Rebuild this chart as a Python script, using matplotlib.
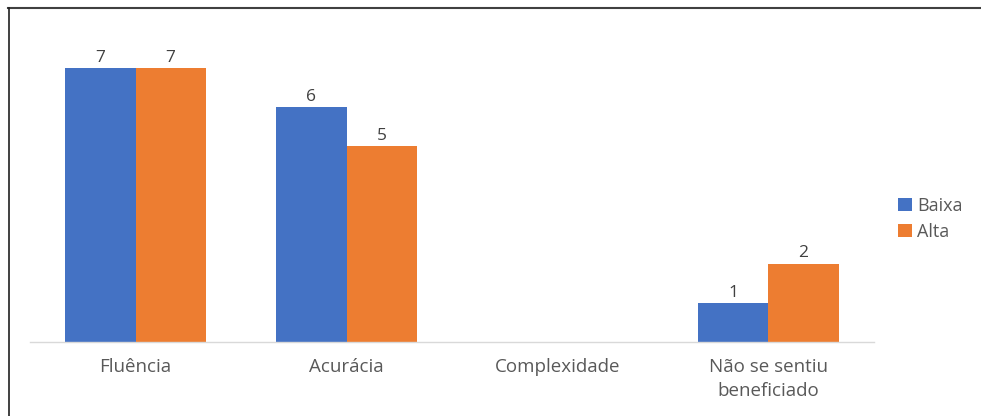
import matplotlib
matplotlib.use("Agg")
import matplotlib.pyplot as plt
import numpy as np
from matplotlib.lines import Line2D

categories = ["Fluência", "Acurácia", "Complexidade", "Não se sentiu\nbeneficiado"]
baixa = [7, 6, 0, 1]
alta = [7, 5, 0, 2]

plt.rcParams['font.family'] = ['Open Sans', 'DejaVu Sans']
text_color = "#595959"

fig = plt.figure(figsize=(9.81, 4.16), dpi=100)
ax = fig.add_axes([30/981, 74/416, 844/981, 313/416])

x = np.arange(len(categories))
w = 0.332
b1 = ax.bar(x - w/2, baixa, w, color="#4472C4", label="Baixa")
b2 = ax.bar(x + w/2, alta, w, color="#ED7D31", label="Alta")

for bars, vals in ((b1, baixa), (b2, alta)):
    for rect, v in zip(bars, vals):
        if v > 0:
            ax.text(rect.get_x() + rect.get_width()/2, v + 0.06, str(v),
                    ha="center", va="bottom", fontsize=12.5, color="#404040")

ax.set_xlim(-0.5, 3.5)
ax.set_ylim(0, 8)
ax.set_yticks([])
ax.set_xticks(x)
ax.set_xticklabels(categories, fontsize=13.5, color=text_color, linespacing=1.45)
ax.tick_params(axis="x", length=0, pad=11.5)
for s in ("top", "right", "left"):
    ax.spines[s].set_visible(False)
ax.spines["bottom"].set_color("#D9D9D9")
ax.spines["bottom"].set_linewidth(1)

fig.legend(handles=[b1, b2], labels=["Baixa", "Alta"], loc="center left",
           bbox_to_anchor=(882/981, 1 - 219/416), frameon=False, fontsize=13,
           handlelength=0.75, handleheight=0.75, handletextpad=0.3,
           labelspacing=0.45, labelcolor=text_color)

fig.add_artist(Line2D([8/981, 1], [1 - 7.5/416, 1 - 7.5/416], transform=fig.transFigure,
                      color="#404040", linewidth=1.5))
fig.add_artist(Line2D([8.5/981, 8.5/981], [0, 1 - 7.5/416], transform=fig.transFigure,
                      color="#202020", linewidth=1.2))

fig.savefig("out.png", dpi=100)
